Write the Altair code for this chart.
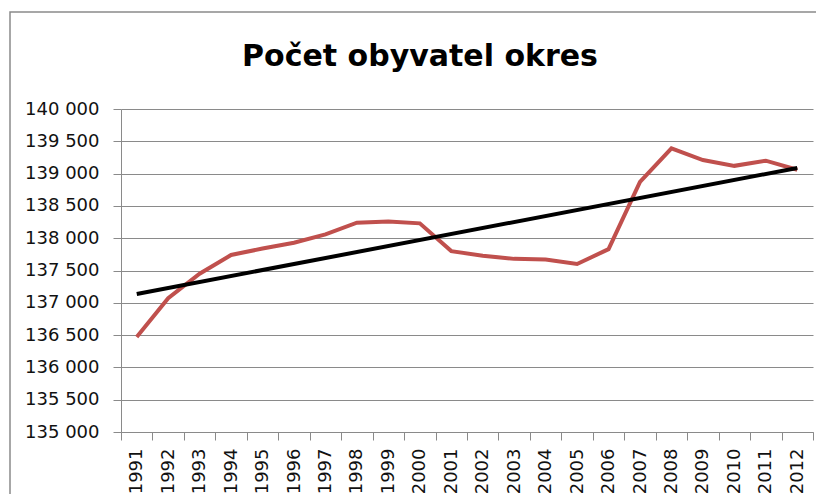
import altair as alt
import pandas as pd

# --- data ---
years = ["1991", "1992", "1993", "1994", "1995", "1996", "1997", "1998", "1999", "2000", "2001",
         "2002", "2003", "2004", "2005", "2006", "2007", "2008", "2009", "2010", "2011", "2012"]
year_num = [1991, 1992, 1993, 1994, 1995, 1996, 1997, 1998, 1999, 2000, 2001,
            2002, 2003, 2004, 2005, 2006, 2007, 2008, 2009, 2010, 2011, 2012]
population = [136470, 137070, 137450, 137740, 137840, 137930, 138060, 138240, 138260, 138230, 137800,
              137730, 137680, 137670, 137600, 137830, 138870, 139390, 139210, 139120, 139200, 139060]
y_ticks = [135000, 135500, 136000, 136500, 137000, 137500, 138000, 138500, 139000, 139500, 140000]

df = pd.DataFrame({"year": years, "yrn": year_num, "pop": population})

FONT = "DejaVu Sans"
GRAY = "#8a8a8a"

x_enc = alt.X(
    "year:O",
    sort=years,
    scale=alt.Scale(type="band", paddingInner=0, paddingOuter=0),
    axis=alt.Axis(
        title=None, labelAngle=270, tickBand="extent", tickSize=8, tickColor=GRAY,
        domainColor=GRAY, labelFont=FONT, labelFontSize=18, labelColor="#111111",
        labelPadding=8, grid=False,
    ),
)
y_enc = alt.Y(
    "pop:Q",
    scale=alt.Scale(domain=[135000, 140000], nice=False, zero=False),
    axis=alt.Axis(
        title=None, values=y_ticks, tickSize=8, tickColor=GRAY, domainColor=GRAY,
        gridColor=GRAY, gridWidth=1, labelFont=FONT, labelFontSize=18, labelColor="#111111",
        labelPadding=14, labelOverlap=False,
        labelExpr="replace(format(datum.value, ','), ',', ' ')",
    ),
)

frame = alt.Chart(alt.Data(values=[{"a": 1}])).mark_rect(
    fillOpacity=0, stroke=GRAY, strokeWidth=1.5
).encode(
    x=alt.value(-111), x2=alt.value(740), y=alt.value(-97), y2=alt.value(420)
)

series = alt.Chart(df).mark_line(color="#C0504D", strokeWidth=4).encode(x=x_enc, y=y_enc)

trend = (
    alt.Chart(df)
    .transform_regression(on="yrn", regression="pop", extent=[1991, 2012])
    .transform_calculate(year="toString(datum.yrn)")
    .mark_line(color="black", strokeWidth=4)
    .encode(x=x_enc, y=y_enc)
)

chart = (
    alt.layer(frame, series, trend)
    .properties(
        width=692,
        height=323,
        autosize=alt.AutoSizeParams(type="none"),
        padding={"left": 113, "top": 101, "right": 3, "bottom": 62},
        title=alt.TitleParams(
            "Počet obyvatel okres", font=FONT, fontSize=30, fontWeight="bold",
            color="black", anchor="middle", frame="group", dx=-47, offset=0, dy=85,
            baseline="alphabetic",
        ),
    )
    .configure_view(strokeWidth=0)
)

chart.save("out.html", embed_options={"renderer": "svg", "actions": False})
